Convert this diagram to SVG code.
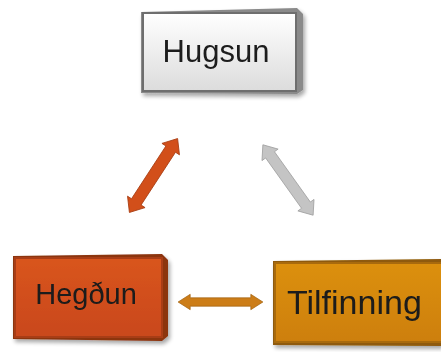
<svg xmlns="http://www.w3.org/2000/svg" width="441" height="352" viewBox="0 0 441 352">
<defs>
<linearGradient id="gGray" x1="0" y1="0" x2="0" y2="1">
<stop offset="0" stop-color="#ffffff"/><stop offset="1" stop-color="#dcdcdc"/>
</linearGradient>
<linearGradient id="gRed" x1="0" y1="0" x2="0" y2="1">
<stop offset="0" stop-color="#d9551c"/><stop offset="1" stop-color="#c9481a"/>
</linearGradient>
<linearGradient id="gAmber" x1="0" y1="0" x2="0" y2="1">
<stop offset="0" stop-color="#dc900f"/><stop offset="1" stop-color="#cd7f0c"/>
</linearGradient>
<filter id="sh" x="-10%" y="-10%" width="130%" height="140%">
<feGaussianBlur in="SourceAlpha" stdDeviation="2"/><feOffset dx="2" dy="3"/>
<feComponentTransfer><feFuncA type="linear" slope="0.35"/></feComponentTransfer>
<feMerge><feMergeNode/><feMergeNode in="SourceGraphic"/></feMerge>
</filter>
<path id="dbl" d="M-42,0 L-30,-11 L-30,-6 L30,-6 L30,-11 L42,0 L30,11 L30,6 L-30,6 L-30,11 Z"/>
</defs>
<style>
.lbl{font-family:"Liberation Sans",Arial,sans-serif;fill:#1a1a1a;text-anchor:middle}
</style>
<rect width="441" height="352" fill="#ffffff"/>
<g id="hugsun" filter="url(#sh)">
<path d="M141,12 L297,8 L303,14 L303,90 L297,94 L141,93 Z" fill="#8a8a8a"/>
<rect x="143" y="13" width="153" height="78" fill="url(#gGray)" stroke="#6e6e6e" stroke-width="2"/>
<text class="lbl" x="216" y="62" font-size="31">Hugsun</text>
</g>
<g id="hegdun" filter="url(#sh)">
<path d="M13,256 L162,254 L168,260 L168,336 L162,341 L13,339 Z" fill="#8c3410"/>
<rect x="15" y="258" width="147" height="79" fill="url(#gRed)" stroke="#a83d12" stroke-width="2"/>
<text class="lbl" x="86" y="304" font-size="29">Hegðun</text>
</g>
<g id="tilfinning" filter="url(#sh)">
<path d="M273,261 L441,259 L441,346 L273,345 Z" fill="#8f5a08"/>
<rect x="275" y="263" width="170" height="79" fill="url(#gAmber)" stroke="#a86a0a" stroke-width="2"/>
<text class="lbl" x="287" y="314" font-size="34" style="text-anchor:start">Tilfinning</text>
</g>
<g id="connectors">
<use href="#dbl" transform="translate(153.5,175.5) rotate(-56.9) scale(1.05,0.95)" fill="#d24f1a" stroke="#a83d12" stroke-width="0.8"/>
<use href="#dbl" transform="translate(288,180) rotate(54.5) scale(1.03,0.9)" fill="#c4c4c4" stroke="#a0a0a0" stroke-width="0.8"/>
<use href="#dbl" transform="translate(220.5,302) scale(1.01,0.7)" fill="#cc7d18" stroke="#a0600e" stroke-width="0.8"/>
</g>
</svg>
